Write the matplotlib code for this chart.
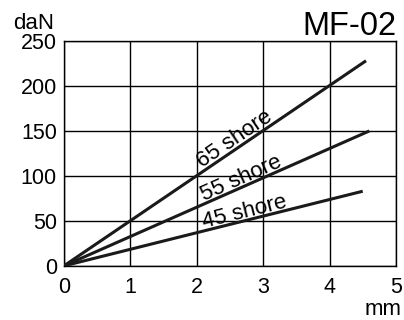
import numpy as np
import matplotlib.pyplot as plt

plt.rcParams['font.family'] = ['Liberation Sans', 'DejaVu Sans']

# deflection (mm) vs load (daN) for each shore hardness
labels = ['65 shore', '55 shore', '45 shore']
x_end = [4.55, 4.6, 4.5]
y_end = [228, 150, 83]
label_x = [2.65, 2.72, 2.75]

fig = plt.figure(figsize=(4.04, 3.2), dpi=100)
ax = fig.add_axes([0.158, 0.169, 0.822, 0.703])
ax.set_xlim(0, 5)
ax.set_ylim(0, 250)

for lab, xe, ye, lx in zip(labels, x_end, y_end, label_x):
    ax.plot([0, xe], [0, ye], color='#1a1a1a', lw=2.2, solid_capstyle='butt', zorder=3)
    ly = ye / xe * lx
    p0 = ax.transData.transform((0, 0))
    p1 = ax.transData.transform((xe, ye))
    ang = np.arctan2(p1[1] - p0[1], p1[0] - p0[0])
    d = 2.2
    ax.annotate(lab, (lx, ly), xytext=(-np.sin(ang) * d, np.cos(ang) * d),
                textcoords='offset points', fontsize=16, ha='center', va='baseline',
                rotation=np.degrees(ang), rotation_mode='anchor', zorder=4)

ax.set_xticks(range(6))
ax.set_yticks(range(0, 251, 50))
ax.grid(True, color='black', lw=1)
ax.tick_params(length=0, labelsize=15.5)
ax.tick_params(axis='y', pad=5)
ax.tick_params(axis='x', pad=8)
for s in ax.spines.values():
    s.set_linewidth(1)

fig.text(0.032, 0.91, 'daN', fontsize=16, va='baseline', ha='left')
fig.text(0.995, 0.015, 'mm', fontsize=16, va='baseline', ha='right')
fig.text(0.982, 0.89, 'MF-02', fontsize=23.5, va='baseline', ha='right')

fig.savefig('out.png', dpi=100)
